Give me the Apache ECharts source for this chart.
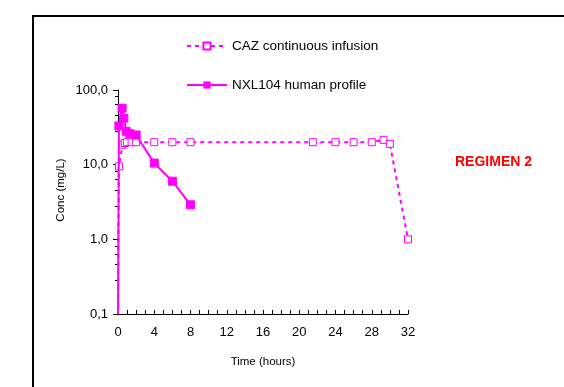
<!DOCTYPE html>
<html>
<head>
<meta charset="utf-8">
<script src="https://cdn.jsdelivr.net/npm/echarts@6/dist/echarts.min.js"></script>
<style>
  html, body { margin: 0; padding: 0; background: #fff; }
  #chart { width: 564px; height: 387px; }
</style>
</head>
<body>
<div id="chart"></div>
<script>
// time (hours) and concentration (mg/L)
const cazTime = [0, 0.1, 0.5, 0.75, 1, 1.5, 2, 4, 6, 8, 21.5, 24, 26, 28, 29.3, 30, 32];
const cazConc = [0.1, 9.5, 18.5, 19.5, 20, 20, 20, 20, 20, 20, 20, 20, 20, 20, 21.5, 19, 1.0];
const nxlTime = [0, 0.1, 0.45, 0.65, 0.9, 1.3, 2, 4, 6, 8];
const nxlConc = [0.1, 33, 57, 42, 28, 26, 25, 10.5, 6, 2.9];
const yTickLabels = { 0.1: '0,1', 1: '1,0', 10: '10,0', 100: '100,0' };

const magenta = '#FF00FF';
const font = 'Liberation Sans, Arial, sans-serif';

function pairs(xs, ys) {
  return xs.map((x, i) => {
    const item = { value: [x, ys[i]] };
    if (x === 0) item.symbol = 'none'; // line starts at the axis floor, no marker there
    return item;
  });
}

const chart = echarts.init(document.getElementById('chart'));

chart.setOption({
  backgroundColor: '#fff',
  animation: false,
  textStyle: { fontFamily: font, color: '#000' },
  grid: { left: 118, right: 156, top: 90, bottom: 73 },
  legend: {
    orient: 'vertical',
    left: 181,
    top: 34,
    itemWidth: 40,
    itemHeight: 9,
    itemGap: 25,
    textStyle: { fontSize: 13.5, color: '#000' },
    data: ['CAZ continuous infusion', 'NXL104 human profile']
  },
  xAxis: {
    type: 'value',
    min: 0,
    max: 32,
    interval: 4,
    name: 'Time (hours)',
    nameLocation: 'middle',
    nameGap: 42,
    nameTextStyle: { fontSize: 11.5, color: '#000' },
    axisLine: { lineStyle: { color: '#000', width: 1 } },
    axisTick: { inside: true, length: 4, lineStyle: { color: '#000' } },
    minorTick: { show: true, splitNumber: 4, length: 4, lineStyle: { color: '#000' } },
    axisLabel: { fontSize: 13, color: '#000', margin: 12 },
    splitLine: { show: false }
  },
  yAxis: {
    type: 'log',
    logBase: 10,
    min: 0.1,
    max: 100,
    axisLine: { show: true, lineStyle: { color: '#000', width: 1 } },
    axisTick: { show: true, length: 5, lineStyle: { color: '#000' } },
    minorTick: { show: true, splitNumber: 5, length: 3, lineStyle: { color: '#000' } },
    axisLabel: {
      fontSize: 13,
      color: '#000',
      margin: 10,
      formatter: v => yTickLabels[+v.toPrecision(3)] || ''
    },
    splitLine: { show: false }
  },
  series: [
    {
      name: 'CAZ continuous infusion',
      type: 'line',
      data: pairs(cazTime, cazConc),
      symbol: 'rect',
      symbolSize: 7,
      lineStyle: { color: magenta, width: 2, type: [4, 4] },
      itemStyle: { color: '#fff', borderColor: magenta, borderWidth: 1 },
      z: 2
    },
    {
      name: 'NXL104 human profile',
      type: 'line',
      data: pairs(nxlTime, nxlConc),
      symbol: 'rect',
      symbolSize: 8,
      lineStyle: { color: magenta, width: 2 },
      itemStyle: { color: magenta, borderColor: magenta },
      z: 3
    }
  ],
  graphic: [
    {
      type: 'polyline',
      shape: { points: [[33, 400], [33, 16], [580, 16]] },
      style: { stroke: '#000', lineWidth: 2, fill: null },
      silent: true
    },
    {
      type: 'text',
      x: 61,
      y: 190,
      rotation: Math.PI / 2,
      style: {
        text: 'Conc (mg/L)',
        fill: '#000',
        font: '11.5px ' + font,
        align: 'center',
        verticalAlign: 'middle'
      }
    },
    {
      type: 'text',
      left: 455,
      top: 155,
      style: {
        text: 'REGIMEN 2',
        fill: '#FF0000',
        font: 'bold 14px ' + font
      }
    }
  ]
});
</script>
</body>
</html>
